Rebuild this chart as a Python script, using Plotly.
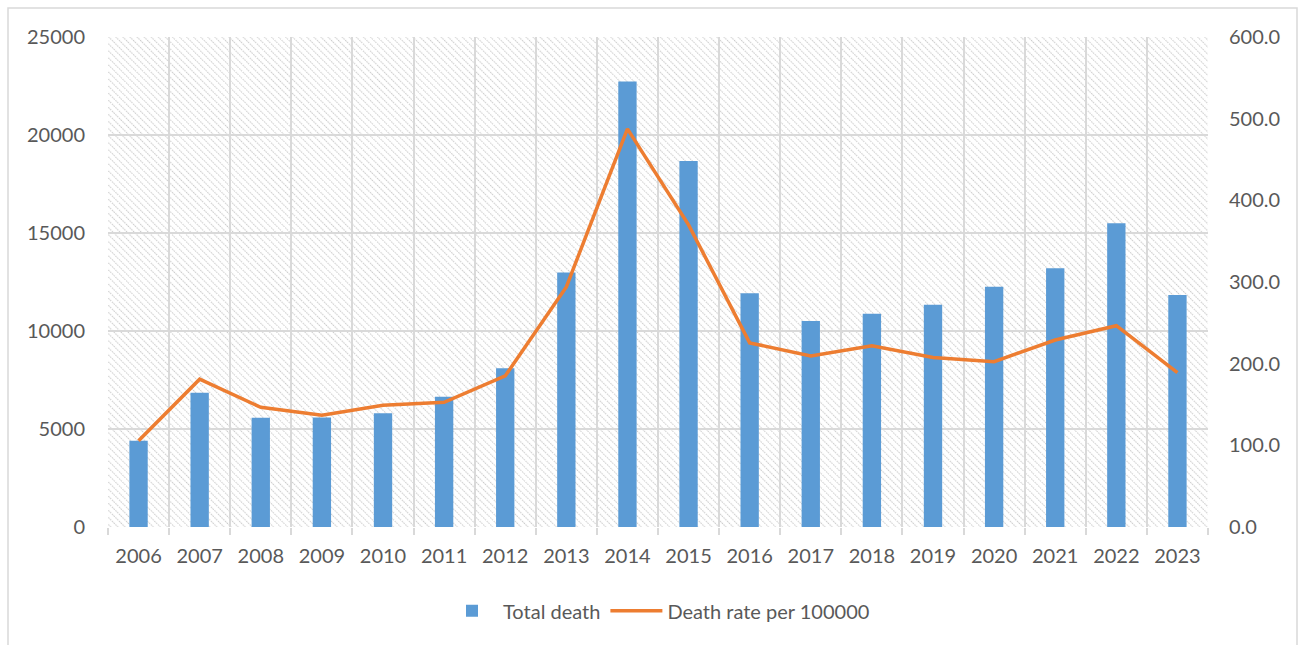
import base64
import plotly.graph_objects as go

years = ["2006", "2007", "2008", "2009", "2010", "2011", "2012", "2013", "2014",
         "2015", "2016", "2017", "2018", "2019", "2020", "2021", "2022", "2023"]
total_death = [4400, 6850, 5580, 5590, 5800, 6650, 8100, 12980, 22730,
               18670, 11920, 10510, 10880, 11340, 12260, 13200, 15500, 11840]
death_rate = [105.5, 181.0, 146.5, 137.0, 149.0, 152.7, 185.0, 294.0, 487.5,
              370.0, 225.5, 209.5, 222.0, 207.5, 202.5, 229.0, 246.5, 189.0]
left_ticks = [0, 5000, 10000, 15000, 20000, 25000]
right_ticks = [0, 100, 200, 300, 400, 500, 600]

FONT = "Lato"
TXT = "#595959"
GRID = "#d9d9d9"

W, H = 1307, 645
L, R, T, B = 108, 99, 37, 118
PW, PH = W - L - R, H - T - B

# hatched plot-area background (Excel style pattern)
svg = f'''<svg xmlns="http://www.w3.org/2000/svg" width="{PW}" height="{PH}" viewBox="0 0 {PW} {PH}" preserveAspectRatio="none">
<defs><pattern id="p" width="5" height="5" patternUnits="userSpaceOnUse" patternTransform="rotate(-45)">
<line x1="0" y1="0" x2="0" y2="5" stroke="#cccccc" stroke-width="2.2" stroke-dasharray="1.4 1.1"/></pattern></defs>
<rect width="{PW}" height="{PH}" fill="#ffffff"/><rect width="{PW}" height="{PH}" fill="url(#p)"/></svg>'''
src = "data:image/svg+xml;base64," + base64.b64encode(svg.encode()).decode()

fig = go.Figure()
fig.add_trace(go.Bar(x=years, y=total_death, name="Total death",
                     marker=dict(color="#5B9BD5", line=dict(width=0))))
fig.add_trace(go.Scatter(x=years, y=death_rate, name="Death rate per 100000",
                         mode="lines", yaxis="y2",
                         line=dict(color="#ED7D31", width=3.5)))

fig.update_layout(
    width=W, height=H,
    margin=dict(l=L, r=R, t=T, b=B),
    paper_bgcolor="white", plot_bgcolor="white",
    font=dict(family=FONT, size=20, color=TXT),
    bargap=0.7,
    showlegend=True,
    legend=dict(orientation="h", x=0.5, xanchor="center", y=-0.171, yanchor="middle",
                font=dict(size=20, color=TXT), itemwidth=52, tracegroupgap=0,
                bgcolor="rgba(0,0,0,0)"),
    xaxis=dict(type="category", tickson="boundaries", showgrid=True, gridcolor=GRID,
               gridwidth=1.5, ticks="outside", ticklen=7, tickcolor=GRID, tickwidth=1.5,
               showline=False, zeroline=False, tickfont=dict(size=20, color=TXT),
               ticklabelstandoff=15),
    yaxis=dict(range=[0, 25000], tickvals=left_ticks, tickformat="d", showgrid=True,
               gridcolor=GRID, gridwidth=1.5, zeroline=False, showline=False, ticks="",
               tickfont=dict(size=20, color=TXT), ticklabelstandoff=22),
    yaxis2=dict(range=[0, 600], tickvals=right_ticks, tickformat=".1f", overlaying="y",
                side="right", showgrid=False, zeroline=False, showline=False, ticks="",
                tickfont=dict(size=20, color=TXT), ticklabelstandoff=20),
    images=[dict(source=src, xref="paper", yref="paper", x=0, y=1, sizex=1, sizey=1,
                 xanchor="left", yanchor="top", sizing="stretch", layer="below")],
    shapes=[dict(type="rect", xref="paper", yref="paper",
                 x0=(8 - L) / PW, x1=(1297 - L) / PW,
                 y0=(T + PH - 660) / PH, y1=(T + PH - 8) / PH,
                 line=dict(color=GRID, width=1.5), fillcolor="rgba(0,0,0,0)", layer="below")],
)

fig.write_html("out.html")
